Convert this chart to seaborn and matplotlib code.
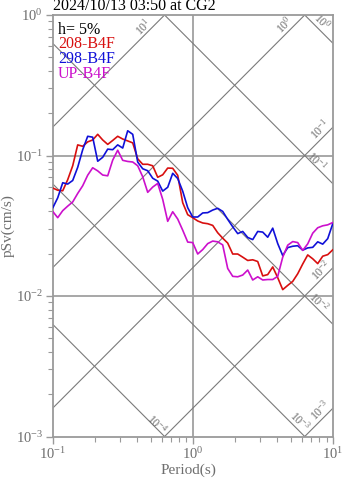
import numpy as np
import pandas as pd
import matplotlib
matplotlib.use("Agg")
import matplotlib.pyplot as plt
import seaborn as sns

# ---------------- data ----------------
period = [0.100, 0.1086, 0.1179, 0.1279, 0.1389, 0.1508, 0.1637, 0.1777, 0.1929, 0.2095,
          0.2274, 0.2469, 0.2680, 0.2909, 0.3159, 0.3429, 0.3723, 0.4042, 0.4387, 0.4763,
          0.5171, 0.5614, 0.6095, 0.6616, 0.7183, 0.7798, 0.8466, 0.9191, 0.9977, 1.083,
          1.176, 1.277, 1.386, 1.504, 1.633, 1.773, 1.925, 2.090, 2.269, 2.463,
          2.674, 2.903, 3.152, 3.421, 3.715, 4.033, 4.378, 4.753, 5.159, 5.601,
          6.081, 6.601, 7.167, 7.780, 8.447, 9.170, 10.0]

psv_208 = [0.0587, 0.0566, 0.0561, 0.0672, 0.0845, 0.119, 0.1163, 0.125, 0.129, 0.1415,
           0.129, 0.120, 0.128, 0.137, 0.131, 0.127, 0.123, 0.0947, 0.0866, 0.0866,
           0.0845, 0.070, 0.0729, 0.0814, 0.0811, 0.0723, 0.0461, 0.0379, 0.0361, 0.0342,
           0.0331, 0.0327, 0.0318, 0.0282, 0.0258, 0.0238, 0.0199, 0.0199, 0.0189, 0.0179,
           0.0181, 0.0176, 0.0139, 0.0142, 0.0161, 0.0135, 0.0111, 0.0119, 0.0127, 0.0144,
           0.0169, 0.0196, 0.0184, 0.0170, 0.0192, 0.0197, 0.0214]

psv_298 = [0.0423, 0.0500, 0.0640, 0.0626, 0.0664, 0.0824, 0.110, 0.137, 0.135, 0.0910,
           0.0971, 0.111, 0.110, 0.119, 0.113, 0.150, 0.1415, 0.0898, 0.0805, 0.0779,
           0.0689, 0.0657, 0.0558, 0.0594, 0.0747, 0.0686, 0.0557, 0.0425, 0.0365, 0.0365,
           0.0390, 0.0392, 0.0409, 0.0421, 0.0400, 0.0351, 0.0311, 0.0278, 0.0288, 0.0261,
           0.0252, 0.0288, 0.0285, 0.0262, 0.0304, 0.0236, 0.0194, 0.0221, 0.0226, 0.0228,
           0.0212, 0.0220, 0.0222, 0.0243, 0.0234, 0.0256, 0.0331]

psv_up = [0.0400, 0.0361, 0.0405, 0.0436, 0.0467, 0.0537, 0.0609, 0.0724, 0.0818, 0.0777,
          0.0726, 0.0717, 0.0927, 0.109, 0.0924, 0.0907, 0.0899, 0.0845, 0.0706, 0.0547,
          0.0596, 0.0633, 0.0487, 0.0340, 0.0398, 0.0353, 0.0294, 0.0242, 0.0240, 0.0199,
          0.0214, 0.0236, 0.0246, 0.0243, 0.0231, 0.0157, 0.0138, 0.0137, 0.0141, 0.0153,
          0.0130, 0.0137, 0.0130, 0.0131, 0.0131, 0.0138, 0.0189, 0.0230, 0.0244, 0.0240,
          0.0211, 0.0235, 0.0280, 0.0306, 0.0316, 0.0321, 0.0334]

series_names = ["208-B4F", "298-B4F", "UP-B4F"]
series_colors = ["#d80f0f", "#1010d8", "#cc10cc"]

title_text = "2024/10/13 03:50 at CG2"
damping_text = "h= 5%"

# tripartite reference lines: acceleration (rising) and displacement (falling)
accel_levels = [1e-3, 1e-2, 1e-1, 1e0, 1e1]
disp_levels = [1e-4, 1e-3, 1e-2, 1e-1, 1e0]
accel_labels = [r"$\mathdefault{10^{-3}}$", r"$\mathdefault{10^{-2}}$", r"$\mathdefault{10^{-1}}$",
                r"$\mathdefault{10^{0}}$", r"$\mathdefault{10^{1}}$"]
disp_labels = [r"$\mathdefault{10^{-4}}$", r"$\mathdefault{10^{-3}}$", r"$\mathdefault{10^{-2}}$",
               r"$\mathdefault{10^{-1}}$", r"$\mathdefault{10^{0}}$"]
accel_label_pos = [(8.08, 0.001533), (8.21, 0.01516), (8.077, 0.1523), (4.545, 0.849), (0.4408, 0.822)]
disp_label_pos = [(0.5549, 0.00123), (5.815, 0.00128), (7.95, 0.00912), (7.69, 0.0917), (8.35, 0.892)]

# ---------------- style ----------------
sns.set_style("ticks")
plt.rcParams["font.family"] = ["Liberation Serif", "DejaVu Serif"]
plt.rcParams["mathtext.fontset"] = "custom"
plt.rcParams["mathtext.rm"] = "Liberation Serif"
plt.rcParams["mathtext.it"] = "Liberation Serif:italic"
plt.rcParams["mathtext.bf"] = "Liberation Serif:bold"
plt.rcParams["axes.unicode_minus"] = False

W, H = 347, 478
L, R, T, B = 52.7, 333.0, 15.0, 436.5
fig = plt.figure(figsize=(W / 100, H / 100), dpi=100)
ax = fig.add_axes([L / W, 1 - B / H, (R - L) / W, (B - T) / H])

gray_spine = "#9a9a9a"
gray_text = "#6e6e6e"
gray_diag = "#7a7a7a"

ax.set_xscale("log")
ax.set_yscale("log")
ax.set_xlim(0.1, 10)
ax.set_ylim(1e-3, 1)

# grid lines
ax.axvline(1.0, color="#a0a0a0", lw=1.3, zorder=1)
for yv in (0.1, 0.01):
    ax.axhline(yv, color="#a0a0a0", lw=1.3, zorder=1)

# diagonal lines
tt = np.array([0.1, 10.0])
for a in accel_levels:
    ax.plot(tt, a * tt / (2 * np.pi), color=gray_diag, lw=0.8, zorder=1)
for d in disp_levels:
    ax.plot(tt, 2 * np.pi * d / tt, color=gray_diag, lw=0.8, zorder=1)
for lab, (px, py) in zip(accel_labels, accel_label_pos):
    ax.text(px, py, lab, rotation=45, rotation_mode="anchor", ha="center", va="center",
            color=gray_text, fontsize=8.5, zorder=2)
for lab, (px, py) in zip(disp_labels, disp_label_pos):
    ax.text(px, py, lab, rotation=-45, rotation_mode="anchor", ha="center", va="center",
            color=gray_text, fontsize=8.5, zorder=2)

# data curves
df = pd.DataFrame({
    "Period": period * 3,
    "pSv": psv_208 + psv_298 + psv_up,
    "Series": [series_names[0]] * len(period) + [series_names[1]] * len(period)
              + [series_names[2]] * len(period),
})
sns.lineplot(data=df, x="Period", y="pSv", hue="Series", hue_order=series_names,
             palette=series_colors, lw=1.2, legend=False, ax=ax, zorder=3)

ax.set_xlim(0.1, 10)
ax.set_ylim(1e-3, 1)

# spines & ticks
for sp in ax.spines.values():
    sp.set_visible(True)
    sp.set_color(gray_spine)
    sp.set_linewidth(1.3)
ax.tick_params(axis="both", which="major", direction="out", length=5, width=1.0,
               color=gray_spine, labelcolor=gray_text, labelsize=10.5, pad=2,
               top=False, right=False)
ax.tick_params(axis="both", which="minor", direction="out", length=3.5, width=0.8,
               color=gray_spine, top=False, right=False)

ax.set_xlabel("Period(s)", color=gray_text, fontsize=11)
ax.set_ylabel("pSv(cm/s)", color=gray_text, fontsize=11)
ax.xaxis.set_label_coords(0.483, -(463.5 - B) / (B - T))
ax.yaxis.set_label_coords((15 - L) / (R - L), 0.5)

# title and legend texts
ax.text(0.0, (B - 10.5) / (B - T), title_text, transform=ax.transAxes, ha="left",
        va="baseline", color="black", fontsize=11.5)
legend_y = [34, 48.5, 63, 77.5]
ax.text(0.019, (B - legend_y[0]) / (B - T), damping_text, transform=ax.transAxes,
        ha="left", va="baseline", color="black", fontsize=11.5)
for name, col, yb in zip(series_names, series_colors, legend_y[1:]):
    ax.text(0.019, (B - yb) / (B - T), name, transform=ax.transAxes,
            ha="left", va="baseline", color=col, fontsize=11.5)

fig.savefig("out.png", dpi=100)
